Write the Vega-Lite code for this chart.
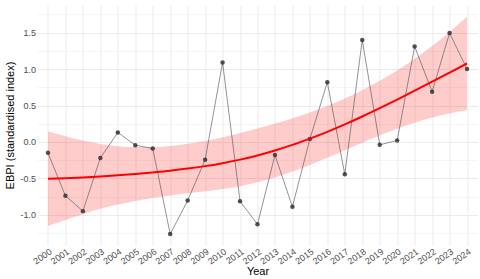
{
  "$schema": "https://vega.github.io/schema/vega-lite/v6.json",
  "width": 440,
  "height": 240,
  "autosize": {"type": "none"},
  "padding": {"left": 37.5, "top": 5, "right": 2.5, "bottom": 34},
  "background": "white",
  "config": {
    "locale": {"number": {"decimal": ".", "thousands": ",", "grouping": [3], "currency": ["$", ""], "minus": "-"}},
    "view": {"stroke": null},
    "font": "Liberation Sans",
    "axis": {"domain": false, "ticks": false, "labelColor": "#4d4d4d", "labelFontSize": 9, "titleColor": "#000000", "titleFontSize": 11, "titleFontWeight": "normal", "gridColor": "#ebebeb"}
  },
  "data": {"values": [
    {"year": 2000, "ebpi": -0.15, "fit": -0.505, "lo": -1.155, "hi": 0.145},
    {"year": 2001, "ebpi": -0.74, "fit": -0.497, "lo": -1.072, "hi": 0.078},
    {"year": 2002, "ebpi": -0.95, "fit": -0.487, "lo": -0.992, "hi": 0.018},
    {"year": 2003, "ebpi": -0.22, "fit": -0.474, "lo": -0.919, "hi": -0.029},
    {"year": 2004, "ebpi": 0.13, "fit": -0.459, "lo": -0.859, "hi": -0.059},
    {"year": 2005, "ebpi": -0.045, "fit": -0.441, "lo": -0.811, "hi": -0.071},
    {"year": 2006, "ebpi": -0.09, "fit": -0.419, "lo": -0.769, "hi": -0.069},
    {"year": 2007, "ebpi": -1.265, "fit": -0.395, "lo": -0.735, "hi": -0.055},
    {"year": 2008, "ebpi": -0.805, "fit": -0.366, "lo": -0.706, "hi": -0.026},
    {"year": 2009, "ebpi": -0.245, "fit": -0.332, "lo": -0.677, "hi": 0.013},
    {"year": 2010, "ebpi": 1.09, "fit": -0.292, "lo": -0.647, "hi": 0.063},
    {"year": 2011, "ebpi": -0.815, "fit": -0.243, "lo": -0.608, "hi": 0.122},
    {"year": 2012, "ebpi": -1.13, "fit": -0.185, "lo": -0.555, "hi": 0.185},
    {"year": 2013, "ebpi": -0.18, "fit": -0.117, "lo": -0.487, "hi": 0.253},
    {"year": 2014, "ebpi": -0.89, "fit": -0.041, "lo": -0.406, "hi": 0.324},
    {"year": 2015, "ebpi": 0.04, "fit": 0.045, "lo": -0.315, "hi": 0.405},
    {"year": 2016, "ebpi": 0.82, "fit": 0.138, "lo": -0.217, "hi": 0.493},
    {"year": 2017, "ebpi": -0.445, "fit": 0.240, "lo": -0.115, "hi": 0.595},
    {"year": 2018, "ebpi": 1.40, "fit": 0.349, "lo": -0.011, "hi": 0.709},
    {"year": 2019, "ebpi": -0.04, "fit": 0.464, "lo": 0.089, "hi": 0.839},
    {"year": 2020, "ebpi": 0.02, "fit": 0.582, "lo": 0.182, "hi": 0.982},
    {"year": 2021, "ebpi": 1.31, "fit": 0.703, "lo": 0.263, "hi": 1.143},
    {"year": 2022, "ebpi": 0.69, "fit": 0.827, "lo": 0.337, "hi": 1.317},
    {"year": 2023, "ebpi": 1.495, "fit": 0.951, "lo": 0.391, "hi": 1.511},
    {"year": 2024, "ebpi": 1.0, "fit": 1.077, "lo": 0.437, "hi": 1.717}
  ]},
  "encoding": {
    "x": {
      "field": "year", "type": "quantitative",
      "scale": {"domain": [1999.4, 2024.6], "nice": false, "zero": false},
      "axis": {
        "title": "Year",
        "values": [2000,2001,2002,2003,2004,2005,2006,2007,2008,2009,2010,2011,2012,2013,2014,2015,2016,2017,2018,2019,2020,2021,2022,2023,2024],
        "format": "d",
        "labelAngle": -35,
        "labelAlign": "right",
        "labelBaseline": "top",
        "labelPadding": 2,
        "labelOverlap": false,
        "labelFlush": false,
        "titlePadding": 0,
        "gridWidth": 1
      }
    }
  },
  "resolve": {"axis": {"y": "independent"}},
  "layer": [
    {
      "mark": {"type": "area", "color": "#ff0000", "opacity": 0.2, "interpolate": "monotone"},
      "encoding": {
        "y": {"field": "lo", "type": "quantitative",
          "scale": {"domain": [-1.415, 1.88], "nice": false, "zero": false},
          "axis": {
            "title": "EBPI (standardised index)",
            "orient": "left",
            "values": [-1, -0.5, 0, 0.5, 1, 1.5],
            "format": ".1f",
            "labelOverlap": false,
            "labelFlush": false,
            "labelPadding": 2,
            "titlePadding": 4,
            "gridWidth": 1
          }
        },
        "y2": {"field": "hi"}
      }
    },
    {
      "mark": {"type": "line", "color": "#555555", "strokeWidth": 0.8, "opacity": 0.8},
      "encoding": {"y": {"field": "ebpi", "type": "quantitative",
        "axis": {"orient": "right", "title": null, "labels": false, "values": [-1.25, -0.75, -0.25, 0.25, 0.75, 1.25, 1.75], "grid": true, "gridWidth": 0.5}}}
    },
    {
      "mark": {"type": "circle", "color": "#333333", "size": 20, "opacity": 0.85},
      "encoding": {"y": {"field": "ebpi", "type": "quantitative", "axis": null}}
    },
    {
      "mark": {"type": "line", "color": "#ff0000", "strokeWidth": 2, "interpolate": "monotone"},
      "encoding": {"y": {"field": "fit", "type": "quantitative", "axis": null}}
    }
  ]
}
